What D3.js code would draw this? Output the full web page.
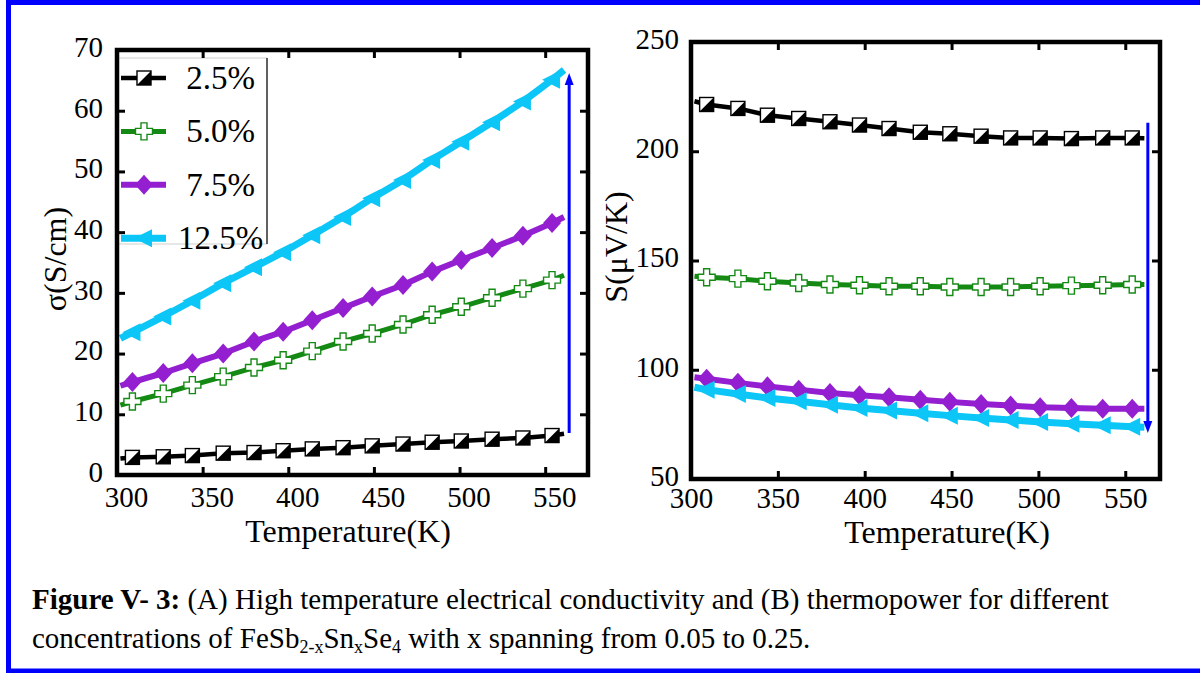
<!DOCTYPE html>
<html>
<head>
<meta charset="utf-8">
<script src="https://cdn.jsdelivr.net/npm/d3@7"></script>
<style>
  html, body { margin: 0; padding: 0; background: #fff; }
  svg { display: block; }
  text { font-family: "Liberation Serif", "Times New Roman", serif; fill: #000; }
</style>
</head>
<body>
<svg id="fig" width="1200" height="673"></svg>
<script>
// Temperatures (K). The first and last readings close the curves; the
// inner fifteen carry the symbols.
const temperature = [302, 309, 327, 344, 362, 380, 397, 414, 432, 449, 467, 484, 501, 519, 537, 554, 561];

const seriesNames = ["2.5%", "5.0%", "7.5%", "12.5%"];

// (A) electrical conductivity, S/cm
const sigma_2_5  = [2.7, 2.9, 3.0, 3.2, 3.6, 3.7, 4.0, 4.3, 4.5, 4.8, 5.1, 5.4, 5.6, 5.9, 6.1, 6.5, 6.8];
const sigma_5_0  = [11.5, 12.1, 13.4, 14.8, 16.2, 17.7, 18.9, 20.4, 22.0, 23.3, 24.8, 26.4, 27.7, 29.2, 30.7, 32.1, 32.9];
const sigma_7_5  = [14.7, 15.3, 16.8, 18.4, 20.0, 22.0, 23.6, 25.5, 27.5, 29.4, 31.3, 33.5, 35.4, 37.4, 39.4, 41.5, 42.5];
const sigma_12_5 = [22.5, 23.5, 26.1, 28.7, 31.6, 34.2, 36.7, 39.5, 42.5, 45.6, 48.6, 51.9, 54.9, 58.1, 61.5, 65.1, 66.7];

// (B) thermopower, µV/K
const seebeck_2_5  = [222.9, 221.4, 219.6, 216.5, 215.0, 213.5, 212.0, 210.4, 208.7, 208.0, 206.9, 206.1, 206.1, 205.8, 206.1, 206.1, 206.0];
const seebeck_5_0  = [142.8, 142.3, 141.7, 140.5, 139.7, 139.0, 138.7, 138.2, 138.2, 137.9, 137.9, 137.9, 138.2, 138.5, 138.7, 139.0, 139.0];
const seebeck_7_5  = [96.6, 95.9, 94.0, 92.4, 90.9, 89.4, 88.3, 87.4, 86.3, 85.3, 84.3, 83.6, 82.8, 82.5, 82.1, 82.1, 82.1];
const seebeck_12_5 = [92.0, 90.9, 88.9, 87.1, 85.6, 84.0, 82.5, 81.3, 80.1, 79.0, 77.9, 77.0, 76.1, 75.3, 74.6, 73.9, 73.7];

// Axis ticks
const tempTicks = [300, 350, 400, 450, 500, 550];
const sigmaTicks = [0, 10, 20, 30, 40, 50, 60, 70];
const seebeckTicks = [50, 100, 150, 200, 250];

// Trend arrows: [temperature, from, to]
const sigmaArrow = [564, 6.9, 66.2];
const seebeckArrow = [563, 213, 71];

// ---- styling ----
const styles = [
  { color: "#000000", width: 4.5, marker: "halfSquare" },
  { color: "#148A14", width: 5,   marker: "openCross" },
  { color: "#931FD0", width: 6,   marker: "diamond" },
  { color: "#0BC6F6", width: 7,   marker: "leftTriangle" }
];
const arrowBlue = "#0000FF";
const serif = '"Liberation Serif", "Times New Roman", serif';

const svg = d3.select("#fig");

// page border
svg.append("rect")
  .attr("x", 8.5).attr("y", 2.5).attr("width", 1200).attr("height", 668.5)
  .attr("fill", "none").attr("stroke", "#0000FF").attr("stroke-width", 5);

function drawMarker(g, type, color) {
  if (type === "halfSquare") {
    const s = 14, h = s / 2;
    g.append("rect").attr("x", -h).attr("y", -h).attr("width", s).attr("height", s)
      .attr("fill", "#fff").attr("stroke", color).attr("stroke-width", 1.4);
    g.append("path").attr("d", `M${h},${-h}L${h},${h}L${-h},${h}Z`).attr("fill", color);
  } else if (type === "openCross") {
    const a = 8.5, b = 3;
    const d = `M${-b},${-a}H${b}V${-b}H${a}V${b}H${b}V${a}H${-b}V${b}H${-a}V${-b}H${-b}Z`;
    g.append("path").attr("d", d).attr("fill", "#fff").attr("stroke", color).attr("stroke-width", 1.4);
  } else if (type === "diamond") {
    g.append("path").attr("d", "M0,-10L9,0L0,10L-9,0Z").attr("fill", color);
  } else if (type === "leftTriangle") {
    g.append("path").attr("d", "M-10,0L8,-9L8,9Z").attr("fill", color);
  }
}

function drawArrow(g, x1, y1, x2, y2) {
  const dir = Math.sign(y2 - y1);
  const headLen = 12, headHalf = 4.5;
  g.append("line")
    .attr("x1", x1).attr("y1", y1).attr("x2", x2).attr("y2", y2 - dir * headLen + dir)
    .attr("stroke", arrowBlue).attr("stroke-width", 3);
  g.append("path")
    .attr("d", `M${x2},${y2}L${x2 - headHalf},${y2 - dir * headLen}L${x2 + headHalf},${y2 - dir * headLen}Z`)
    .attr("fill", arrowBlue);
}

function drawPanel(cfg) {
  const x = d3.scaleLinear().domain(cfg.xDomain).range([cfg.left, cfg.right]);
  const y = d3.scaleLinear().domain(cfg.yDomain).range([cfg.bottom, cfg.top]);
  const g = svg.append("g");

  const line = d3.line().x((d, i) => x(temperature[i])).y(d => y(d));

  cfg.series.forEach((vals, k) => {
    const st = styles[k];
    g.append("path").datum(vals).attr("d", line)
      .attr("fill", "none").attr("stroke", st.color).attr("stroke-width", st.width)
      .attr("stroke-linejoin", "round");
    vals.forEach((v, i) => {
      if (i === 0 || i === vals.length - 1) return;
      const m = g.append("g").attr("transform", `translate(${x(temperature[i])},${y(v)})`);
      drawMarker(m, st.marker, st.color);
    });
  });

  drawArrow(g, x(cfg.arrow[0]), y(cfg.arrow[1]), x(cfg.arrow[0]), y(cfg.arrow[2]));

  // legend
  if (cfg.legend) {
    const L = cfg.legend;
    const lg = g.append("g");
    lg.append("rect").attr("x", L.x).attr("y", L.y).attr("width", L.w).attr("height", L.h)
      .attr("fill", "none").attr("stroke", "#cfcfcf").attr("stroke-width", 1);
    lg.append("line").attr("x1", L.x + L.w).attr("x2", L.x + L.w).attr("y1", L.y).attr("y2", L.y + L.h)
      .attr("stroke", "#333").attr("stroke-width", 1.5);
    seriesNames.forEach((name, k) => {
      const st = styles[k];
      const ry = L.y + L.firstRow + k * L.rowGap;
      lg.append("line").attr("x1", L.x + 3).attr("x2", L.x + 48).attr("y1", ry).attr("y2", ry)
        .attr("stroke", st.color).attr("stroke-width", st.width);
      const m = lg.append("g").attr("transform", `translate(${L.x + 26},${ry})`);
      drawMarker(m, st.marker, st.color);
      lg.append("text").attr("x", L.x + 60).attr("y", ry + 11)
        .attr("font-size", 33).style("white-space", "pre")
        .text(name.length < 5 ? " " + name : name);
    });
  }

  // ticks on all four sides, pointing inward
  const tickLen = -8;
  const styleAxis = sel => {
    sel.select(".domain").remove();
    sel.attr("font-family", serif).attr("font-size", 29);
    sel.selectAll(".tick line").attr("stroke", "#000").attr("stroke-width", 3);
    sel.selectAll(".tick text").attr("fill", "#000");
  };
  const bx = g.append("g").attr("transform", `translate(0,${cfg.bottom})`)
    .call(d3.axisBottom(x).tickValues(tempTicks).tickSizeInner(tickLen).tickSizeOuter(0).tickPadding(cfg.xPad))
    .call(styleAxis);
  bx.selectAll(".tick text").attr("dx", cfg.xLabelShift);
  g.append("g").attr("transform", `translate(0,${cfg.top})`)
    .call(d3.axisTop(x).tickValues(tempTicks).tickSizeInner(tickLen).tickSizeOuter(0).tickFormat(""))
    .call(styleAxis);
  const ly = g.append("g").attr("transform", `translate(${cfg.left},0)`)
    .call(d3.axisLeft(y).tickValues(cfg.yTicks).tickSizeInner(tickLen).tickSizeOuter(0).tickPadding(cfg.yPad))
    .call(styleAxis);
  ly.selectAll(".tick text").attr("dy", "0.22em");
  g.append("g").attr("transform", `translate(${cfg.right},0)`)
    .call(d3.axisRight(y).tickValues(cfg.yTicks).tickSizeInner(tickLen).tickSizeOuter(0).tickFormat(""))
    .call(styleAxis);

  // frame
  g.append("rect").attr("x", cfg.left).attr("y", cfg.top)
    .attr("width", cfg.right - cfg.left).attr("height", cfg.bottom - cfg.top)
    .attr("fill", "none").attr("stroke", "#000").attr("stroke-width", 4.5);

  // axis titles
  g.append("text").attr("x", cfg.xTitle[0]).attr("y", cfg.xTitle[1])
    .attr("text-anchor", "middle").attr("font-size", 32).text("Temperature(K)");
  g.append("text")
    .attr("transform", `translate(${cfg.yTitle[0]},${cfg.yTitle[1]}) rotate(-90)`)
    .attr("text-anchor", "middle").attr("font-size", 32).text(cfg.yLabel);
}

drawPanel({
  left: 117, right: 588, top: 50, bottom: 475,
  xDomain: [300, 575], yDomain: [0, 70], yTicks: sigmaTicks,
  series: [sigma_2_5, sigma_5_0, sigma_7_5, sigma_12_5],
  arrow: sigmaArrow,
  xPad: 11, xLabelShift: 9, yPad: 14,
  xTitle: [348, 542], yTitle: [66, 259], yLabel: "σ(S/cm)",
  legend: { x: 118, y: 58, w: 149, h: 186, firstRow: 20, rowGap: 53.4 }
});

drawPanel({
  left: 691, right: 1160, top: 42, bottom: 479,
  xDomain: [300, 570], yDomain: [50, 250], yTicks: seebeckTicks,
  series: [seebeck_2_5, seebeck_5_0, seebeck_7_5, seebeck_12_5],
  arrow: seebeckArrow,
  xPad: 8, xLabelShift: 0, yPad: 12,
  xTitle: [947, 543], yTitle: [627, 247], yLabel: "S(μV/K)"
});

// caption
const cap = svg.append("g").attr("font-size", 29);
const l1 = cap.append("text").attr("x", 32).attr("y", 609);
l1.append("tspan").attr("font-weight", "bold").text("Figure V- 3:");
l1.append("tspan").text(" (A) High temperature electrical conductivity and (B) thermopower for different");
const l2 = cap.append("text").attr("x", 32).attr("y", 648);
const sub = (t) => l2.append("tspan").attr("font-size", 18).attr("dy", 5).text(t);
const norm = (t) => l2.append("tspan").attr("dy", -5).text(t);
l2.append("tspan").text("concentrations of FeSb");
sub("2-x"); norm("Sn"); sub("x"); norm("Se"); sub("4");
norm(" with x spanning from 0.05 to 0.25.");
</script>
</body>
</html>
